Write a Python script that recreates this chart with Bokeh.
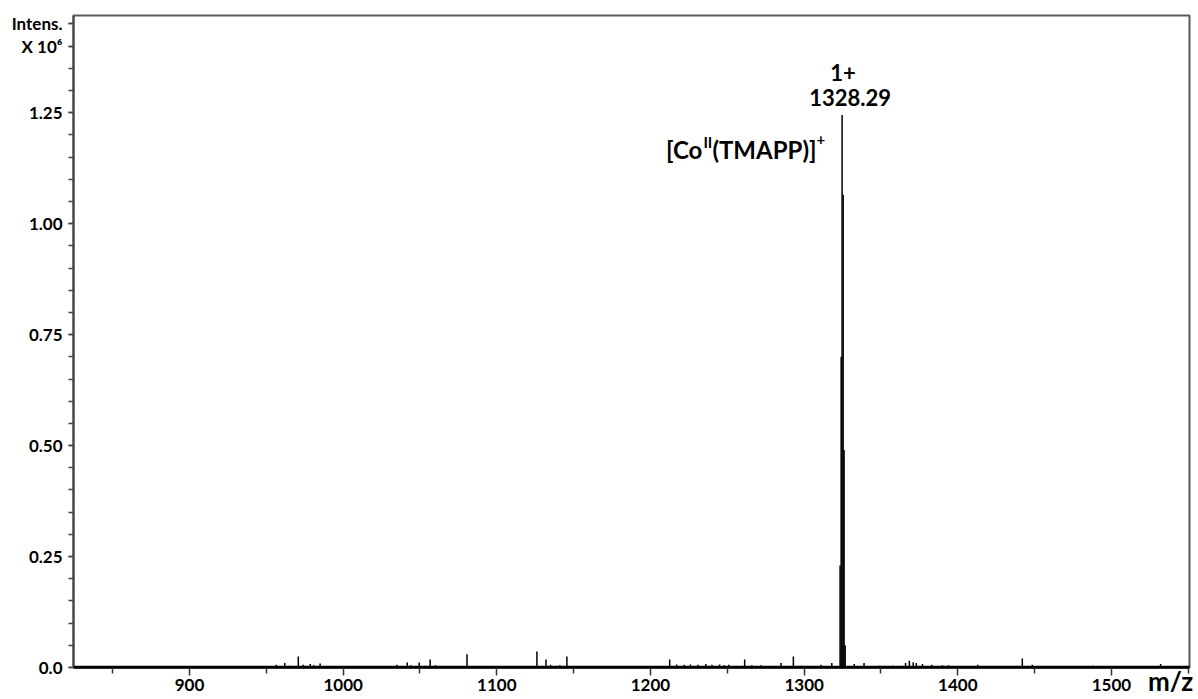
from bokeh.plotting import figure
from bokeh.models import Range1d, FixedTicker, Label, Span
from bokeh.embed import file_html
from bokeh.resources import INLINE

# ---- data (intensity in units of 10^6) ----
minor_mz = [956.5, 962.0, 965.0, 970.8, 974.0, 978.6, 981.0, 985.0, 990.0,
            1035.0, 1041.7, 1044.0, 1049.5, 1053.0, 1056.6, 1060.0, 1065.0, 1080.6,
            1090.0, 1110.0, 1126.1, 1132.0, 1135.0, 1141.0, 1145.6,
            1212.5, 1217.0, 1222.0, 1226.0, 1231.0, 1236.0, 1240.0, 1245.0, 1248.0,
            1251.0, 1261.3, 1266.0, 1272.0, 1285.0, 1293.0, 1298.0, 1311.0, 1318.0,
            1332.6, 1339.0, 1349.0, 1358.0, 1366.0, 1368.5, 1371.0, 1373.0, 1377.0,
            1383.0, 1390.0, 1394.0, 1413.0, 1442.0, 1448.5, 1488.0, 1532.0]
minor_int = [0.006, 0.010, 0.004, 0.025, 0.006, 0.008, 0.005, 0.009, 0.003,
             0.006, 0.011, 0.005, 0.011, 0.004, 0.018, 0.005, 0.003, 0.030,
             0.002, 0.002, 0.036, 0.018, 0.006, 0.005, 0.025,
             0.018, 0.007, 0.006, 0.007, 0.006, 0.008, 0.006, 0.007, 0.005,
             0.006, 0.018, 0.005, 0.005, 0.010, 0.025, 0.004, 0.006, 0.010,
             0.008, 0.010, 0.004, 0.004, 0.010, 0.015, 0.012, 0.010, 0.008,
             0.006, 0.005, 0.005, 0.006, 0.020, 0.006, 0.004, 0.008]
cluster_mz = [1323.4, 1324.1, 1324.7, 1325.4, 1326.0, 1326.7]
cluster_int = [0.23, 0.70, 1.245, 1.065, 0.49, 0.05]
baseline_level = 0.002

x_major = [900, 1000, 1100, 1200, 1300, 1400, 1500]
x_minor = [850, 950, 1050, 1150, 1250, 1350, 1450, 1550]
x_title = "m/z"
y_major = [0.0, 0.25, 0.5, 0.75, 1.0, 1.25]
y_major_labels = ["0.0", "0.25", "0.50", "0.75", "1.00", "1.25"]
y_unit_pos = [1.40, 1.45]
y_unit_labels = ["X 10\u2076", "Intens."]
y_minor = [round(0.05 * i, 2) for i in range(0, 30)]

x_lo, x_hi = 824.5, 1550.8
y_lo, y_hi = 0.0, 1.469

FONT = "Lato"

p = figure(width=1198, height=699, output_backend="svg", toolbar_location=None,
           x_range=Range1d(x_lo, x_hi), y_range=Range1d(y_lo, y_hi),
           min_border_left=73, min_border_right=9, min_border_top=15,
           min_border_bottom=31)
p.background_fill_color = "white"
p.border_fill_color = "white"
p.outline_line_color = "#5a5a5a"
p.outline_line_width = 2
p.xgrid.visible = False
p.ygrid.visible = False

# baseline and sticks
p.add_layout(Span(location=baseline_level, dimension="width", line_color="black", line_width=1.5))
p.segment(x0=minor_mz, y0=[0] * len(minor_mz), x1=minor_mz, y1=minor_int,
          line_color="black", line_width=1.5)
p.segment(x0=cluster_mz, y0=[0] * len(cluster_mz), x1=cluster_mz, y1=cluster_int,
          line_color="black", line_width=1.5)

# x axis
xa = p.xaxis[0]
xa.ticker = FixedTicker(ticks=x_major, minor_ticks=x_minor)
xa.axis_line_color = "black"
xa.axis_line_width = 2.5
xa.major_tick_out = 8
xa.major_tick_in = 0
xa.minor_tick_out = 6
xa.minor_tick_in = 0
xa.major_tick_line_color = "#333333"
xa.minor_tick_line_color = "#333333"
xa.major_tick_line_width = 1.5
xa.minor_tick_line_width = 1.5
xa.major_label_standoff = 3
xa.major_label_text_font = FONT
xa.major_label_text_font_style = "bold"
xa.major_label_text_font_size = "17px"
xa.major_label_text_color = "black"
# axis title at the right end; non-breaking spaces pull it left of the frame edge
xa.axis_label = x_title + "\u00a0" * 6
xa.axis_label_text_font = FONT
xa.axis_label_text_font_style = "bold"
xa.axis_label_text_font_size = "26px"
xa.axis_label_text_color = "black"
xa.axis_label_standoff = -29
xa.axis_label_align = "end"

# y axis
ya = p.yaxis[0]
ya.ticker = FixedTicker(ticks=y_major + y_unit_pos, minor_ticks=y_minor)
overrides = {v: s for v, s in zip(y_major, y_major_labels)}
overrides.update({v: s for v, s in zip(y_unit_pos, y_unit_labels)})
ya.major_label_overrides = overrides
ya.axis_line_color = "#444444"
ya.axis_line_width = 2
ya.major_tick_out = 5
ya.major_tick_in = 0
ya.minor_tick_out = 5
ya.minor_tick_in = 0
ya.major_tick_line_color = "#444444"
ya.minor_tick_line_color = "#444444"
ya.major_tick_line_width = 1.5
ya.minor_tick_line_width = 1.5
ya.major_label_standoff = 6
ya.major_label_text_font = FONT
ya.major_label_text_font_style = "bold"
ya.major_label_text_font_size = "17px"
ya.major_label_text_color = "black"

peak_x = cluster_mz[2]
peak_y = cluster_int[2]

def lab(text, x, y, size, align="center", baseline="middle", xo=0, yo=0):
    p.add_layout(Label(x=x, y=y, text=text, x_offset=xo, y_offset=yo,
                       text_font=FONT, text_font_style="bold",
                       text_font_size=size, text_color="black",
                       text_align=align, text_baseline=baseline))

lab("1+", peak_x, peak_y, "22px", baseline="alphabetic", xo=1, yo=42)
lab("1328.29", peak_x, peak_y, "22px", baseline="alphabetic", xo=8, yo=17)

# [Co^II(TMAPP)]^+
base_y = 1.166
x0 = 1207.1
lab("[Co", x0, base_y, "24px", align="right", baseline="alphabetic", xo=41)
lab("II", x0, base_y, "15px", align="left", baseline="alphabetic", xo=42, yo=8)
lab("(TMAPP)]", x0, base_y, "24px", align="left", baseline="alphabetic", xo=51)
lab("+", x0, base_y, "15px", align="left", baseline="alphabetic", xo=155, yo=10)

open("out.html", "w").write(file_html(p, INLINE))
